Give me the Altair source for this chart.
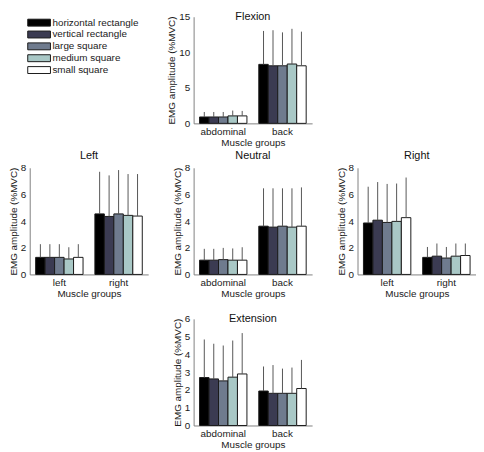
import altair as alt
import pandas as pd

FONT = "Liberation Sans"

shapes = ["horizontal rectangle", "vertical rectangle", "large square", "medium square", "small square"]
colors = ["#000000", "#3b3b52", "#6f7b8e", "#a9c8c6", "#ffffff"]

# Flexion
flexion_groups = ["abdominal", "back"]
flexion_abdominal_mean = [0.9, 0.9, 0.9, 1.05, 1.05]
flexion_abdominal_sd = [0.7, 0.7, 0.7, 0.75, 0.7]
flexion_back_mean = [8.3, 8.1, 8.1, 8.35, 8.1]
flexion_back_sd = [4.7, 5.0, 4.7, 4.95, 4.8]

# Left
left_groups = ["left", "right"]
left_left_mean = [1.28, 1.28, 1.28, 1.16, 1.28]
left_left_sd = [0.99, 0.99, 0.99, 0.88, 0.99]
left_right_mean = [4.54, 4.35, 4.54, 4.43, 4.38]
left_right_sd = [3.16, 3.08, 3.29, 3.10, 3.15]

# Neutral
neutral_groups = ["abdominal", "back"]
neutral_abdominal_mean = [1.07, 1.07, 1.11, 1.07, 1.07]
neutral_abdominal_sd = [0.85, 0.85, 0.88, 0.88, 0.97]
neutral_back_mean = [3.62, 3.55, 3.62, 3.55, 3.62]
neutral_back_sd = [2.84, 2.91, 2.84, 2.91, 2.91]

# Right
right_groups = ["left", "right"]
right_left_mean = [3.86, 4.07, 3.90, 3.98, 4.26]
right_left_sd = [2.72, 2.86, 2.89, 2.84, 3.01]
right_right_mean = [1.28, 1.37, 1.23, 1.37, 1.42]
right_right_sd = [0.78, 0.95, 0.83, 0.95, 0.90]

# Extension
extension_groups = ["abdominal", "back"]
extension_abdominal_mean = [2.70, 2.62, 2.51, 2.72, 2.90]
extension_abdominal_sd = [2.14, 1.98, 1.99, 2.06, 2.30]
extension_back_mean = [1.94, 1.81, 1.81, 1.81, 2.08]
extension_back_sd = [1.38, 1.59, 1.39, 1.45, 1.61]

ticks_15 = [0, 5, 10, 15]
ticks_8 = [0, 2, 4, 6, 8]
ticks_6 = [0, 1, 2, 3, 4, 5, 6]

W = 120
H = 108

color_scale = alt.Scale(domain=shapes, range=colors)


def panel(title, groups, means, sds, ymax, ticks, title_offset):
    rows = []
    for g, m, s in zip(groups, means, sds):
        for sh, mv, sv in zip(shapes, m, s):
            rows.append({"group": g, "shape": sh, "mean": mv, "sd": sv})
    df = pd.DataFrame(rows)
    base = alt.Chart(df).transform_calculate(top="datum.mean + datum.sd")
    x = alt.X(
        "group:N", sort=groups,
        scale=alt.Scale(paddingInner=0.2, paddingOuter=0.1),
        axis=alt.Axis(title="Muscle groups", labelAngle=0, ticks=False,
                      labelPadding=3, titlePadding=1, domainColor="#808080"),
    )
    xo = alt.XOffset("shape:N", sort=shapes,
                     scale=alt.Scale(paddingInner=0, paddingOuter=0))
    y = alt.Y(
        "mean:Q",
        scale=alt.Scale(domain=[0, ymax], nice=False, zero=True),
        axis=alt.Axis(values=ticks, title="EMG amplitude (%MVC)", grid=False,
                      ticks=False, labelPadding=4, titlePadding=2,
                      labelOverlap=False, domainColor="#808080"),
    )
    bars = base.mark_bar(stroke="#1a1a1a", strokeWidth=1).encode(
        x=x, xOffset=xo, y=y,
        color=alt.Color("shape:N", scale=color_scale, legend=None),
    )
    err = base.mark_rule(color="#555555", strokeWidth=1).encode(
        x=x, xOffset=xo, y=y, y2="top:Q"
    )
    return alt.layer(bars, err).properties(
        width=W, height=H,
        title=alt.TitleParams(text=title, offset=title_offset, baseline="alphabetic",
                              anchor="middle", frame="group", fontSize=11, font=FONT,
                              fontWeight="normal", color="#111111"),
    )


flexion = panel("Flexion", flexion_groups,
                [flexion_abdominal_mean, flexion_back_mean],
                [flexion_abdominal_sd, flexion_back_sd], 15, ticks_15, -19)
left = panel("Left", left_groups,
             [left_left_mean, left_right_mean],
             [left_left_sd, left_right_sd], 8, ticks_8, -7)
neutral = panel("Neutral", neutral_groups,
                [neutral_abdominal_mean, neutral_back_mean],
                [neutral_abdominal_sd, neutral_back_sd], 8, ticks_8, -7)
right = panel("Right", right_groups,
              [right_left_mean, right_right_mean],
              [right_left_sd, right_right_sd], 8, ticks_8, -7)
extension = panel("Extension", extension_groups,
                  [extension_abdominal_mean, extension_back_mean],
                  [extension_abdominal_sd, extension_back_sd], 6, ticks_6, -19)

legend_df = pd.DataFrame({"shape": shapes})
ly = alt.Y("shape:N", sort=shapes,
           scale=alt.Scale(domain=shapes, range=[0, 60],
                           paddingInner=5 / 12, paddingOuter=5 / 24),
           axis=None)
swatches = alt.Chart(legend_df).mark_rect(stroke="#1a1a1a", strokeWidth=1).encode(
    x=alt.value(-2), x2=alt.value(21), y=ly,
    color=alt.Color("shape:N", scale=color_scale, legend=None),
)
labels = alt.Chart(legend_df).mark_text(
    align="left", baseline="middle", fontSize=10, font=FONT, color="#1a1a1a"
).encode(x=alt.value(23), y=ly, text="shape:N")
legend = alt.layer(swatches, labels).properties(width=W, height=H)


def blank():
    return alt.Chart(legend_df).mark_point(opacity=0).encode(
        x=alt.value(0), y=alt.value(0)
    ).properties(width=W, height=H)


chart = alt.concat(
    legend, flexion, blank(),
    left, neutral, right,
    blank(), extension, blank(),
    columns=3,
    spacing={"row": 45, "column": 46},
    bounds="flush",
).properties(padding=0).configure_view(stroke=None).configure_axis(
    labelFont=FONT, titleFont=FONT, labelFontSize=10, titleFontSize=10,
    labelColor="#1a1a1a", titleColor="#1a1a1a", titleFontWeight="normal",
)

chart.save("out.html", embed_options={"renderer": "svg", "actions": False})
